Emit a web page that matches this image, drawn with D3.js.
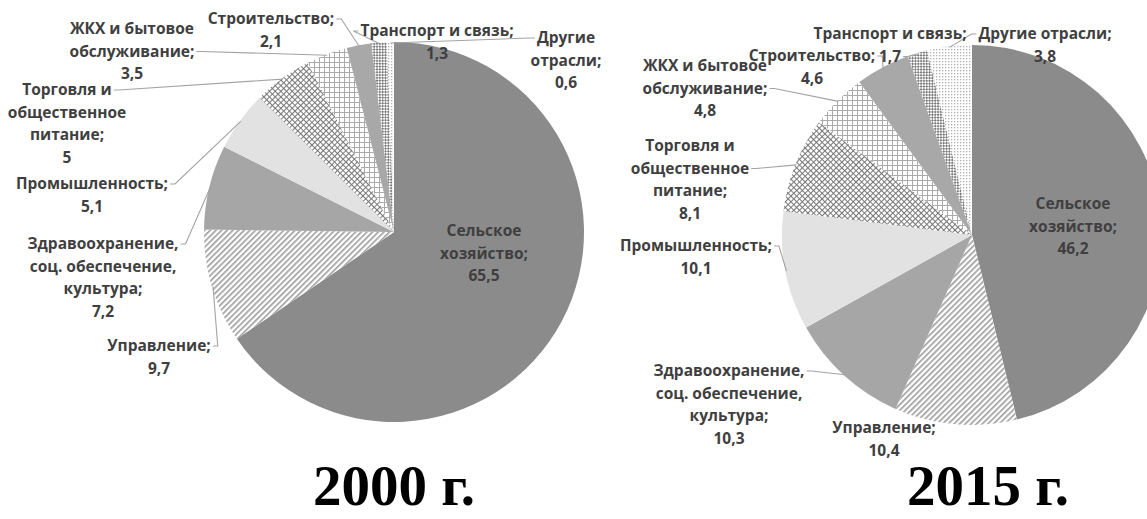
<!DOCTYPE html>
<html><head><meta charset="utf-8">
<script src="https://cdn.jsdelivr.net/npm/d3@7"></script>
<style>body{margin:0;background:#fff;overflow:hidden} svg{display:block}</style>
</head><body>
<svg id="chart" width="1147" height="519"></svg>
<script>
// ---- data ----
const categories = ["Сельское хозяйство","Управление","Здравоохранение, соц. обеспечение, культура","Промышленность","Торговля и общественное питание","ЖКХ и бытовое обслуживание","Строительство","Транспорт и связь","Другие отрасли"];
const values2000 = [65.5, 9.7, 7.2, 5.1, 5, 3.5, 2.1, 1.3, 0.6];
const values2015 = [46.2, 10.4, 10.3, 10.1, 8.1, 4.8, 4.6, 1.7, 3.8];
const years = ["2000 г.", "2015 г."];
const nameLines2000 = [["Сельское","хозяйство;"],["Управление;"],["Здравоохранение,","соц. обеспечение,","культура;"],["Промышленность;"],["Торговля и","общественное","питание;"],["ЖКХ и бытовое","обслуживание;"],["Строительство;"],["Транспорт и связь;"],["Другие","отрасли;"]];
const nameLines2015 = [["Сельское","хозяйство;"],["Управление;"],["Здравоохранение,","соц. обеспечение,","культура;"],["Промышленность;"],["Торговля и","общественное","питание;"],["ЖКХ и бытовое","обслуживание;"],["Строительство;"],["Транспорт и связь;"],["Другие отрасли;"]];

// ---- styles / layout ----
const fills = ["#8b8b8b","url(#pDiag)","#a6a6a6","#e2e2e2","url(#pCross)","url(#pGrid)","#a8a8a8","url(#pCheck)","url(#pDots)"];
const layouts = [
  { cx: 394, cy: 232, r: 190, title: [394, 505],
    labels: [[484,230],[159,345],[103,243],[92,183],[67,89],[132,28],[271,18],[437,30],[566,37]],
    leaders: [null,[0,"r"],[0,"r"],[0,"r"],[0,"r"],[1,"r"],[0,"r"],[0,"l"],[0,"l"]] },
  { cx: 972, cy: 235, r: 190, title: [988, 505],
    labels: [[1073,203],[884,427],[729,370],[696,245],[690,145],[705,65],[812,55],[890,33],[1045,33]],
    leaders: [null,null,[0,"r"],[0,"r"],[1,"r"],[1,"r"],[0,"r"],[1,"r"],[0,"l"]] }
];
const LINE_H = 22.5;

const svg = d3.select("#chart");
const defs = svg.append("defs");
function pat(id, w, h, rot, draw) {
  const p = defs.append("pattern").attr("id", id).attr("patternUnits","userSpaceOnUse")
    .attr("width", w).attr("height", h);
  if (rot) p.attr("patternTransform", `rotate(${rot})`);
  p.append("rect").attr("width", w).attr("height", h).attr("fill", "#fff");
  draw(p);
}
pat("pDiag", 4, 4, 45, p => p.append("rect").attr("width", 1.6).attr("height", 4).attr("fill", "#9c9c9c"));
pat("pCross", 4, 4, 45, p => { p.append("rect").attr("width",1).attr("height",4).attr("fill","#777"); p.append("rect").attr("width",4).attr("height",1).attr("fill","#777"); });
pat("pGrid", 5, 5, 0, p => { p.append("rect").attr("width",1).attr("height",5).attr("fill","#aaa"); p.append("rect").attr("width",5).attr("height",1).attr("fill","#aaa"); });
pat("pCheck", 4, 4, 45, p => { p.append("rect").attr("width",2).attr("height",2).attr("fill","#7c7c7c"); p.append("rect").attr("x",2).attr("y",2).attr("width",2).attr("height",2).attr("fill","#7c7c7c"); });
pat("pDots", 3, 3, 0, p => p.append("rect").attr("width",1.3).attr("height",1.3).attr("fill","#b0b0b0"));

const fmt = v => String(v).replace(".", ",");
const pie = d3.pie().sort(null).value(d => d);

[values2000, values2015].forEach((vals, ci) => {
  const L = layouts[ci];
  const nameLines = ci === 0 ? nameLines2000 : nameLines2015;
  const g = svg.append("g");
  const arcs = pie(vals);
  const arc = d3.arc().innerRadius(0).outerRadius(L.r);
  const edge = d3.arc().innerRadius(L.r - 1).outerRadius(L.r - 1);
  g.append("g").attr("transform", `translate(${L.cx},${L.cy})`)
    .selectAll("path").data(arcs).join("path")
    .attr("d", arc).attr("fill", (d, i) => fills[i]);

  const lineG = g.append("g");
  const textG = g.append("g");
  arcs.forEach((d, i) => {
    const lines = nameLines[i].concat([fmt(vals[i])]);
    const [lx, ly] = L.labels[i];
    const t = textG.append("text")
      .attr("text-anchor", "middle")
      .attr("font-family", "'Open Sans', sans-serif")
      .attr("font-weight", 700).attr("font-size", 15.5)
      .attr("fill", "#3f3f3f");
    const spans = lines.map((s, k) => t.append("tspan").attr("x", lx).attr("y", ly + 6 + k * LINE_H).text(s));
    const ld = L.leaders[i];
    if (ld) {
      const node = spans[ld[0]].node();
      const w = node.getComputedTextLength();
      const yy = ly + ld[0] * LINE_H + 1;
      const sx = ld[1] === "r" ? lx + w / 2 + 2 : lx - w / 2 - 2;
      const dx = ld[1] === "r" ? 5 : -5;
      const c = edge.centroid(d);
      const px = L.cx + c[0], py = L.cy + c[1];
      lineG.append("polyline")
        .attr("points", `${sx},${yy} ${sx + dx},${yy} ${px},${py}`)
        .attr("fill", "none").attr("stroke", "#a3a3a3").attr("stroke-width", 1.1);
    }
  });
  svg.append("text").attr("x", L.title[0]).attr("y", L.title[1])
    .attr("text-anchor", "middle")
    .attr("font-family", "'Liberation Serif', 'Times New Roman', serif")
    .attr("font-weight", 700).attr("font-size", 57).attr("fill", "#000")
    .text(years[ci]);
});
</script>
</body></html>
